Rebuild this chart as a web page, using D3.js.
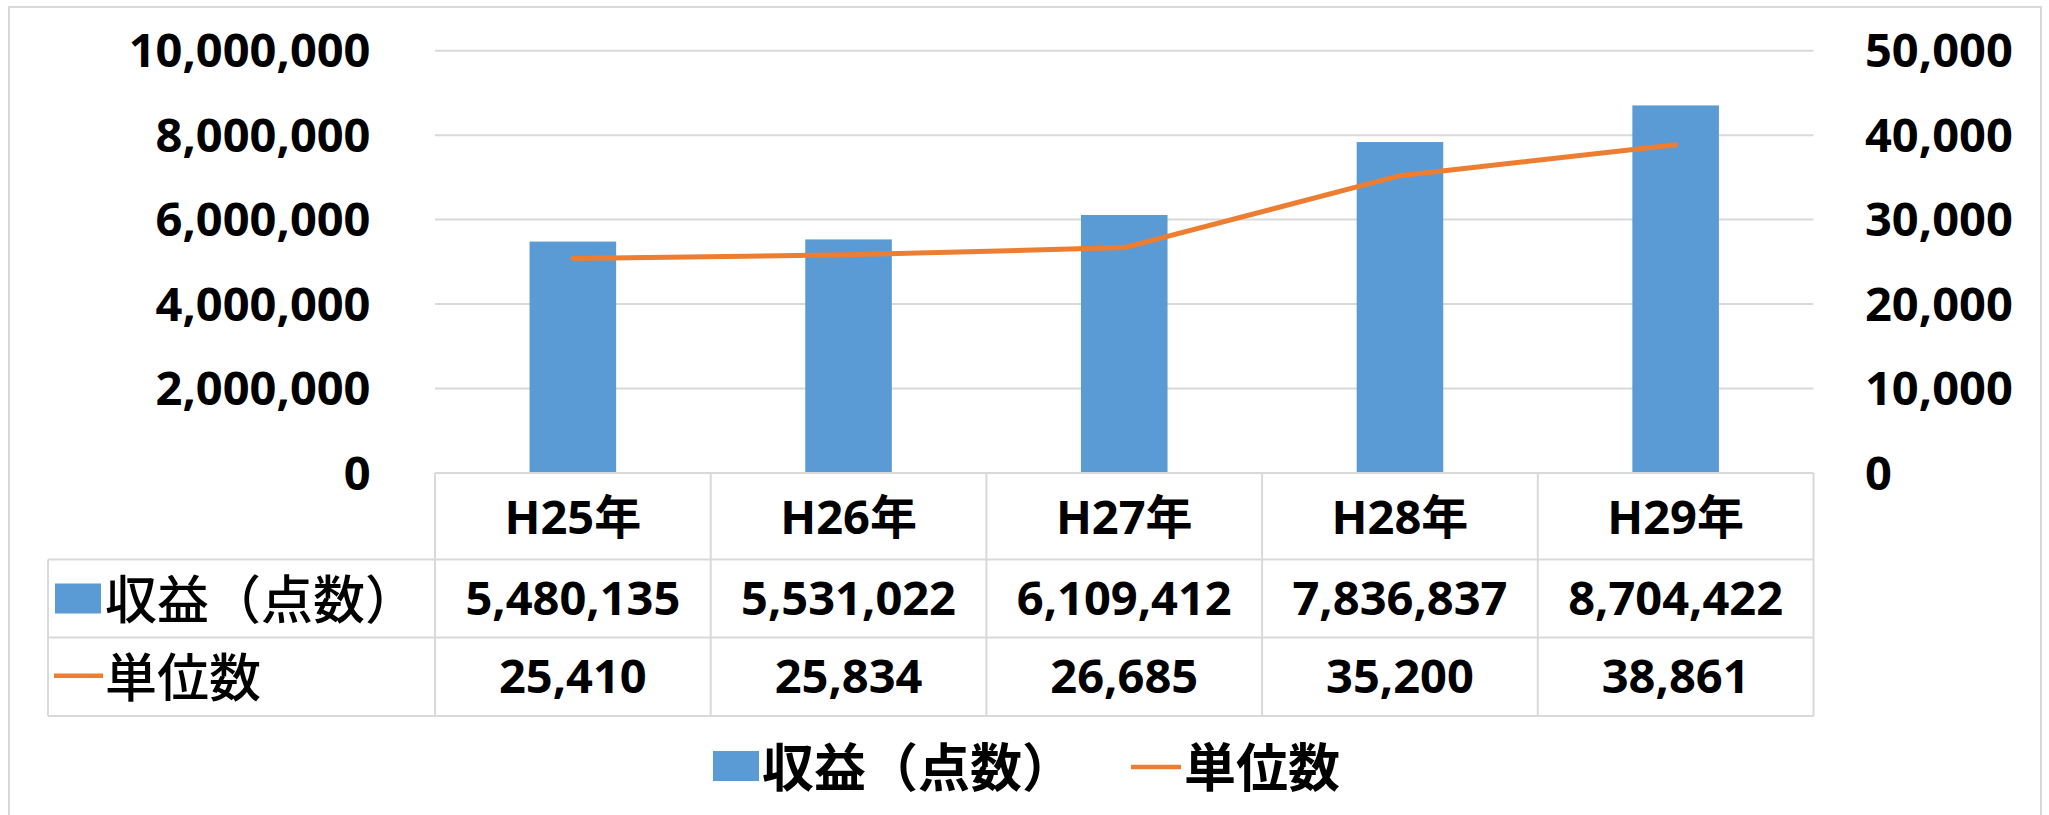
<!DOCTYPE html>
<html>
	<head>
		<meta charset="UTF-8">
		<title>収益と単位数</title>
		<style>
			body{margin:0;background:#fff;}
			text{font-family:"Open Sans","Noto Sans CJK JP",sans-serif;fill:#000;}
		</style>
	</head>
	<body>
		<div id="chart"></div>
		<script src="https://cdn.jsdelivr.net/npm/d3@7/dist/d3.min.js"></script>
		<script>
			//data
			var categories = ["H25年","H26年","H27年","H28年","H29年"];
			var revenue = [5480135,5531022,6109412,7836837,8704422];
			var units = [25410,25834,26685,35200,38861];
			var leftTicks = [0,2000000,4000000,6000000,8000000,10000000];
			var rightTicks = [0,10000,20000,30000,40000,50000];
			var seriesNames = ["収益（点数）","単位数"];

			var width = 2049,
				height = 815;
			var plot = {l:435,r:1813.5,t:50.7,b:473};
			var rows = {head:559.5,r1:637.5,r2:716,left:48};
			var fs = 47,
				jfs = 52;
			var barColor = "#5b9bd5",
				lineColor = "#ed7d31",
				gridColor = "#d9d9d9";

			var svg = d3.select("#chart").append("svg")
						.attr("width",width)
						.attr("height",height);

			//outer chart border
			svg.append("rect")
				.attr("x",9).attr("y",7)
				.attr("width",2032).attr("height",900)
				.attr("fill","none")
				.attr("stroke",gridColor)
				.attr("stroke-width",2);

			var x = d3.scaleBand().domain(categories).range([plot.l,plot.r]).padding(0);
			var y = d3.scaleLinear().domain([0,10000000]).range([plot.b,plot.t]);
			var y2 = d3.scaleLinear().domain([0,50000]).range([plot.b,plot.t]);
			var fmt = d3.format(",");
			var barW = x.bandwidth()*0.314;

			//gridlines
			svg.append("g").selectAll("line")
				.data(leftTicks.slice(1))
				.enter().append("line")
				.attr("x1",plot.l).attr("x2",plot.r)
				.attr("y1",function(d){return y(d);})
				.attr("y2",function(d){return y(d);})
				.attr("stroke",gridColor)
				.attr("stroke-width",2);

			//left axis labels
			svg.append("g").selectAll("text")
				.data(leftTicks)
				.enter().append("text")
				.attr("x",370.5)
				.attr("y",function(d){return y(d)+fs*0.355;})
				.attr("text-anchor","end")
				.style("font-size",fs+"px")
				.style("font-weight",700)
				.text(function(d){return fmt(d);});

			//right axis labels
			svg.append("g").selectAll("text")
				.data(rightTicks)
				.enter().append("text")
				.attr("x",1865)
				.attr("y",function(d){return y2(d)+fs*0.355;})
				.attr("text-anchor","start")
				.style("font-size",fs+"px")
				.style("font-weight",700)
				.text(function(d){return fmt(d);});

			//bars
			svg.append("g").selectAll("rect")
				.data(revenue)
				.enter().append("rect")
				.attr("x",function(d,i){return x(categories[i])+(x.bandwidth()-barW)/2;})
				.attr("y",function(d){return y(d);})
				.attr("width",barW)
				.attr("height",function(d){return plot.b-y(d);})
				.attr("fill",barColor);

			//line
			var line = d3.line()
						.x(function(d,i){return x(categories[i])+x.bandwidth()/2;})
						.y(function(d){return y2(d);});
			svg.append("path")
				.datum(units)
				.attr("d",line)
				.attr("fill","none")
				.attr("stroke",lineColor)
				.attr("stroke-width",5)
				.attr("stroke-linecap","round")
				.attr("stroke-linejoin","round");

			//data table grid
			var tbl = svg.append("g").attr("stroke",gridColor).attr("stroke-width",2);
			tbl.append("line").attr("x1",plot.l).attr("x2",plot.r).attr("y1",plot.b).attr("y2",plot.b);
			[rows.head,rows.r1,rows.r2].forEach(function(yy){
				tbl.append("line").attr("x1",rows.left).attr("x2",plot.r).attr("y1",yy).attr("y2",yy);
			});
			var colEdges = categories.map(function(c){return x(c);}).concat([plot.r]);
			tbl.selectAll("line.v")
				.data(colEdges)
				.enter().append("line")
				.attr("x1",function(d){return d;}).attr("x2",function(d){return d;})
				.attr("y1",plot.b).attr("y2",rows.r2);
			tbl.append("line").attr("x1",rows.left).attr("x2",rows.left).attr("y1",rows.head).attr("y2",rows.r2);

			//table text
			var cx = function(c){return x(c)+x.bandwidth()/2;};
			var rowMid = [(plot.b+rows.head)/2+1,(rows.head+rows.r1)/2,(rows.r1+rows.r2)/2];
			var tableRows = [categories,revenue.map(fmt),units.map(fmt)];
			tableRows.forEach(function(vals,r){
				svg.append("g").selectAll("text")
					.data(vals)
					.enter().append("text")
					.attr("x",function(d,i){return cx(categories[i]);})
					.attr("y",rowMid[r]+fs*0.355)
					.attr("text-anchor","middle")
					.style("font-size",fs+"px")
					.style("font-weight",700)
					.text(function(d){return d;});
			});

			//row keys in table
			svg.append("rect")
				.attr("x",55).attr("y",rowMid[1]-15)
				.attr("width",46).attr("height",30)
				.attr("fill",barColor);
			svg.append("line")
				.attr("x1",54).attr("x2",103)
				.attr("y1",rowMid[2]-1).attr("y2",rowMid[2]-1)
				.attr("stroke",lineColor).attr("stroke-width",4.5);
			svg.append("text")
				.attr("x",105).attr("y",rowMid[1])
				.attr("dominant-baseline","central")
				.style("font-size",jfs+"px")
				.style("font-weight",500)
				.text(seriesNames[0]);
			svg.append("text")
				.attr("x",105).attr("y",rowMid[2])
				.attr("dominant-baseline","central")
				.style("font-size",jfs+"px")
				.style("font-weight",500)
				.text(seriesNames[1]);

			//legend
			var legY = 766;
			svg.append("rect")
				.attr("x",713).attr("y",legY-15)
				.attr("width",46).attr("height",30)
				.attr("fill",barColor);
			svg.append("text")
				.attr("x",762).attr("y",legY)
				.attr("dominant-baseline","central")
				.style("font-size",jfs+"px")
				.style("font-weight",700)
				.text(seriesNames[0]);
			svg.append("line")
				.attr("x1",1131).attr("x2",1181)
				.attr("y1",legY+1).attr("y2",legY+1)
				.attr("stroke",lineColor).attr("stroke-width",4.5);
			svg.append("text")
				.attr("x",1184).attr("y",legY)
				.attr("dominant-baseline","central")
				.style("font-size",jfs+"px")
				.style("font-weight",700)
				.text(seriesNames[1]);
		</script>
	</body>
</html>
